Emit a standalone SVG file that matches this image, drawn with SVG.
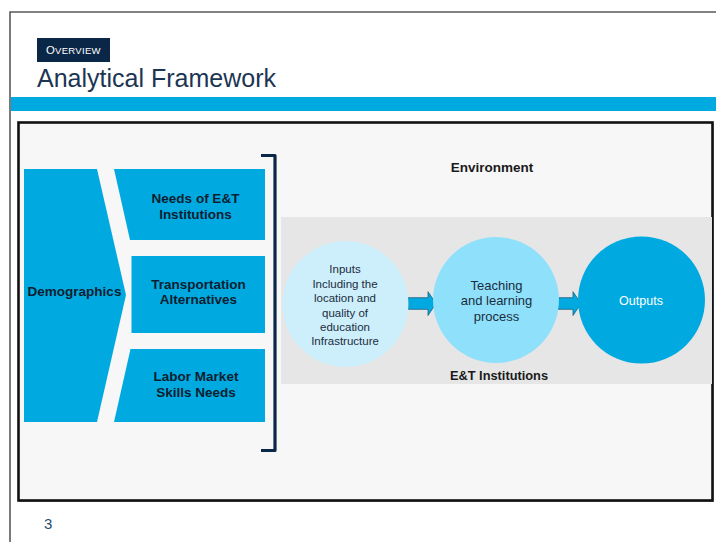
<svg xmlns="http://www.w3.org/2000/svg" width="716" height="542" viewBox="0 0 716 542">
<style>
text{font-family:"Liberation Sans",Arial,sans-serif}
.blk{fill:#00aae1}
.bt{font-size:13.5px;font-weight:bold;fill:#0d1e30;text-anchor:middle}
.ct{font-size:11.5px;fill:#1c2c3c;text-anchor:middle}
.arr{fill:#00a9e0;stroke:#1d5f82;stroke-width:0.8}
</style>
<rect x="0" y="0" width="716" height="542" fill="#ffffff"/>
<!-- slide border -->
<path d="M10,542 V12 H716" fill="none" stroke="#5a5a5a" stroke-width="1.6"/>
<!-- header -->
<g id="header">
<rect x="37" y="38" width="73" height="24" fill="#0b2748"/>
<text x="46" y="54" fill="#ffffff" font-size="11.3" letter-spacing="0.3">O<tspan font-size="9.5">VERVIEW</tspan></text>
<text x="37" y="87" font-size="25" fill="#1c3553">Analytical Framework</text>
<rect x="11" y="97" width="705" height="14" fill="#00aae1"/>
</g>
<!-- main frame -->
<rect x="19.5" y="124" width="694" height="378" fill="#a0a0a0"/>
<rect x="18.5" y="122.5" width="694" height="378" fill="#f7f7f7" stroke="#111111" stroke-width="2.6"/>
<!-- left block -->
<g id="demographics">
<path class="blk" d="M24,169 H97 L126,295 L97,422 H24 Z"/>
<text class="bt" x="74.5" y="296">Demographics</text>
</g>
<g id="needs">
<path class="blk" d="M114,169 H265 V240 H130 Z"/>
<text class="bt" x="195.5" y="203">Needs of E&amp;T</text>
<text class="bt" x="195.5" y="219">Institutions</text>
</g>
<g id="transport">
<rect class="blk" x="131.5" y="256" width="133.5" height="77"/>
<text class="bt" x="198.5" y="288.5">Transportation</text>
<text class="bt" x="198.5" y="304">Alternatives</text>
</g>
<g id="labor">
<path class="blk" d="M130.5,349 H265 V422 H114 Z"/>
<text class="bt" x="196" y="381">Labor Market</text>
<text class="bt" x="196" y="397">Skills Needs</text>
</g>
<g id="bracket">
<path d="M261,155.5 H275 V450.5 H261" fill="none" stroke="#0b2748" stroke-width="3.2" stroke-linejoin="round"/>
</g>
<!-- environment -->
<g id="environment">
<text x="492" y="172" font-size="13.5" font-weight="bold" fill="#1a1a1a" text-anchor="middle">Environment</text>
</g>
<g id="institutions">
<rect x="281" y="217" width="431" height="167" fill="#e6e6e6"/>
<text x="499" y="379.5" font-size="12.8" font-weight="bold" fill="#1a1a1a" text-anchor="middle">E&amp;T Institutions</text>
</g>
<!-- connectors -->
<g id="connectors">
<path class="arr" d="M408,297.7 H428 V291.7 L436,303.5 L428,315.5 V309.3 H408 Z"/>
<path class="arr" d="M558,297.7 H573 V291.7 L581,303.5 L573,315.5 V309.3 H558 Z"/>
</g>
<g id="inputs">
<circle cx="345.5" cy="304" r="63" fill="#cdeffc"/>
<text class="ct" x="345" y="273.3">Inputs</text>
<text class="ct" x="345" y="287.7">Including the</text>
<text class="ct" x="345" y="302.2">location and</text>
<text class="ct" x="345" y="316.6">quality of</text>
<text class="ct" x="345" y="330.8">education</text>
<text class="ct" x="345" y="345">Infrastructure</text>
</g>
<g id="teaching">
<circle cx="496" cy="300" r="63" fill="#8fe1fb"/>
<text x="496.5" y="289.5" font-size="13" fill="#1c2c3c" text-anchor="middle">Teaching</text>
<text x="496.5" y="305" font-size="13" fill="#1c2c3c" text-anchor="middle">and learning</text>
<text x="496.5" y="320.5" font-size="13" fill="#1c2c3c" text-anchor="middle">process</text>
</g>
<g id="outputs">
<circle cx="641.5" cy="300" r="63.5" fill="#00aae1"/>
<text x="641" y="304.5" font-size="12.5" fill="#ffffff" text-anchor="middle">Outputs</text>
</g>
<text x="44" y="529" font-size="15" fill="#2c4a6a">3</text>
</svg>
